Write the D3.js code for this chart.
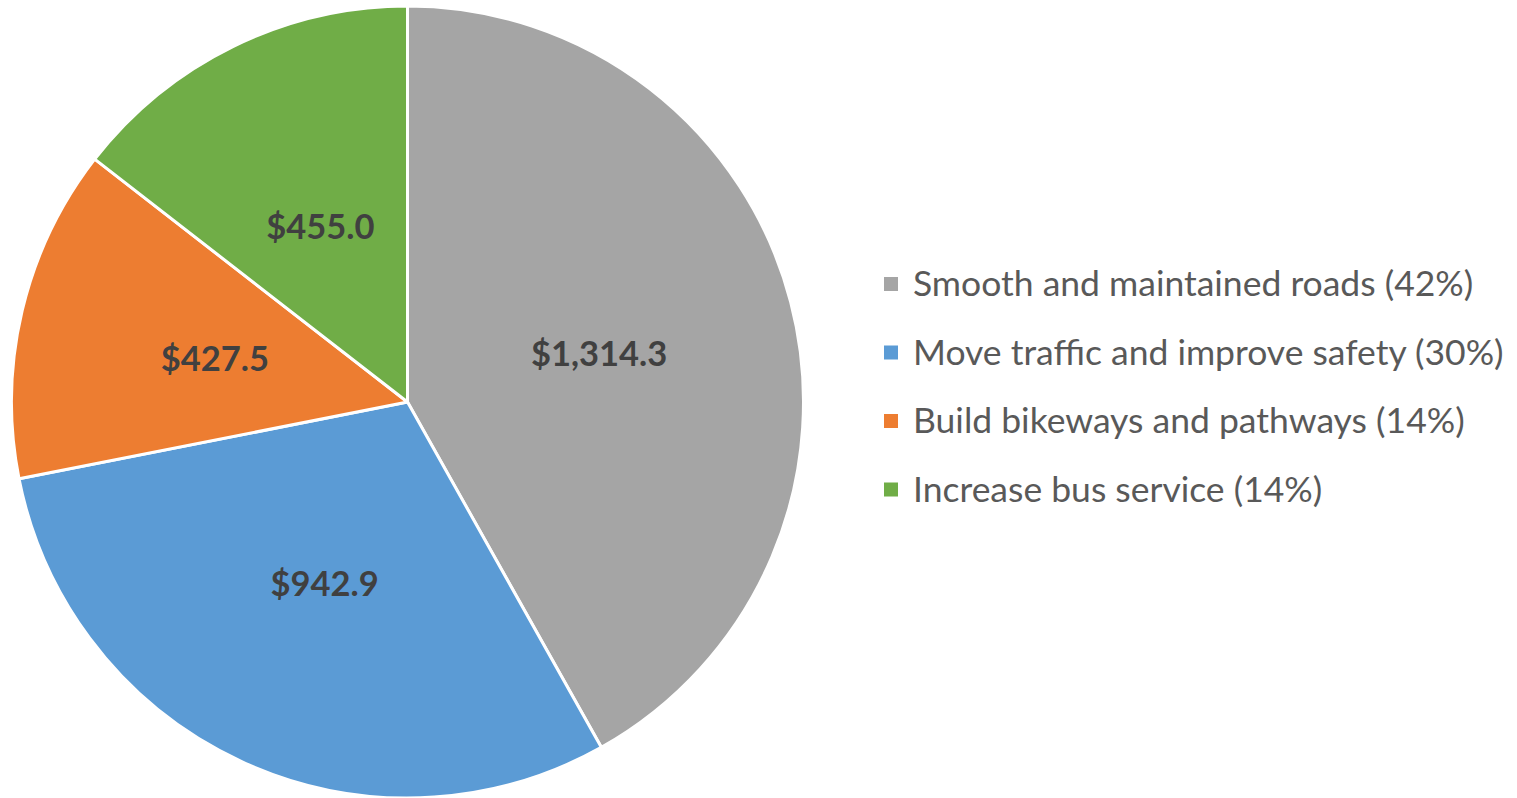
<!DOCTYPE html>
<html>
<head>
<meta charset="utf-8">
<script src="https://cdn.jsdelivr.net/npm/d3@7"></script>
<style>
  body { margin: 0; background: #fff; }
  svg { display: block; font-family: "Source Sans Pro", Lato, "Noto Sans", sans-serif; }
</style>
</head>
<body>
<svg width="1517" height="798"></svg>
<script>
// data
var categories = [
  "Smooth and maintained roads",
  "Move traffic and improve safety",
  "Build bikeways and pathways",
  "Increase bus service"
];
var values = [1314.3, 942.9, 427.5, 455.0];
var colors = ["#A5A5A5", "#5B9BD5", "#ED7D31", "#70AD47"];

var data = categories.map((c, i) => ({name: c, value: values[i], color: colors[i]}));
var total = d3.sum(values);

var svg = d3.select("svg"),
    width = +svg.attr("width"),
    height = +svg.attr("height");

var radius = 396,
    cx = 407.5,
    cy = 402;

var pie = d3.pie().sort(null).value(d => d.value);
var arc = d3.arc().innerRadius(0).outerRadius(radius);
var labelArc = d3.arc().innerRadius(radius * 0.5).outerRadius(radius * 0.5);

var g = svg.append("g").attr("transform", `translate(${cx},${cy})`);

// slices
g.selectAll("path")
  .data(pie(data))
  .join("path")
  .attr("d", arc)
  .attr("fill", d => d.data.color)
  .attr("stroke", "#fff")
  .attr("stroke-width", 3)
  .attr("stroke-linejoin", "round");

// value labels
var fmt = d3.format(",.1f");
g.selectAll("text.val")
  .data(pie(data))
  .join("text")
  .attr("class", "val")
  .attr("transform", d => `translate(${labelArc.centroid(d)})`)
  .attr("text-anchor", "middle")
  .attr("dy", "0.42em")
  .attr("font-size", 34.5)
  .attr("font-weight", "bold")
  .attr("fill", "#404040")
  .text(d => "$" + fmt(d.data.value));

// legend
var pct = d3.format(".0%");
var legend = svg.append("g").attr("transform", "translate(884,284)");
var item = legend.selectAll("g")
  .data(data)
  .join("g")
  .attr("transform", (d, i) => `translate(0,${i * 68.5})`);

item.append("rect")
  .attr("x", 0)
  .attr("y", -7)
  .attr("width", 14)
  .attr("height", 14)
  .attr("fill", d => d.color);

item.append("text")
  .attr("x", 29)
  .attr("dy", "0.35em")
  .attr("font-size", 35.5)
  .attr("fill", "#595959")
  .text(d => `${d.name} (${pct(d.value / total)})`);
</script>
</body>
</html>
